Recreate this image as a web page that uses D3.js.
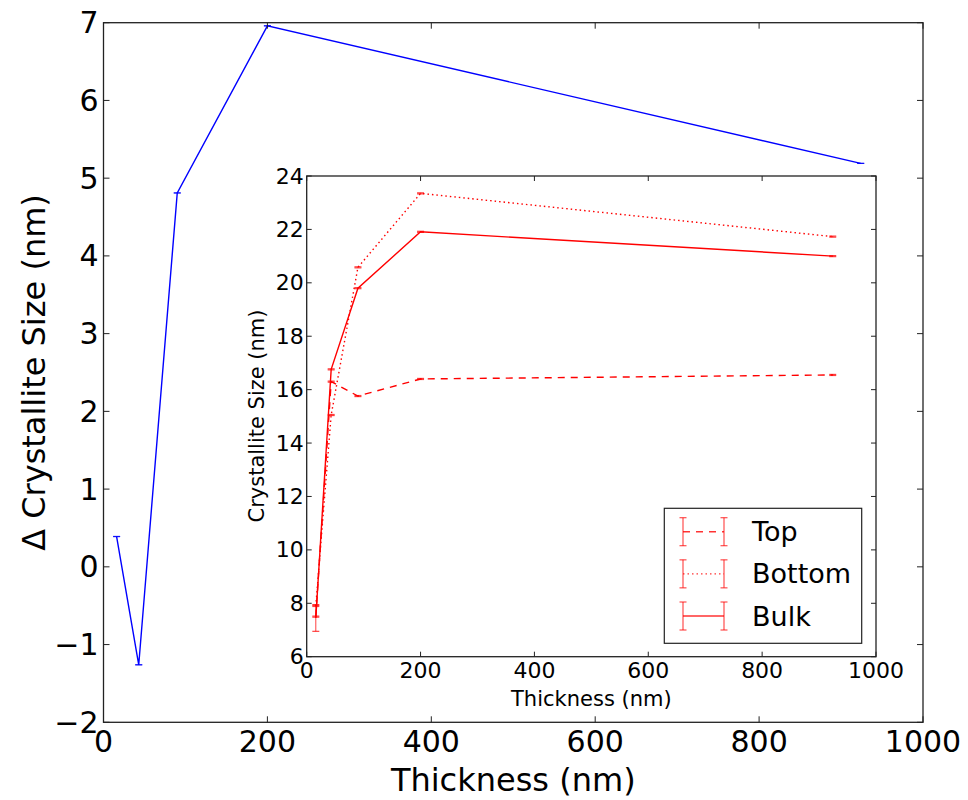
<!DOCTYPE html>
<html><head><meta charset="utf-8">
<script src="https://cdn.jsdelivr.net/npm/d3@7"></script>
<style>body{margin:0;background:#fff}svg{font-family:"DejaVu Sans",sans-serif}</style>
</head><body><svg id="c" width="968" height="800"></svg>
<script>
const thickness = [16, 43, 90, 200, 924];
const delta = [0.39, -1.26, 4.81, 6.96, 5.19];
const deltaErr = [0, 0, 0, 0, 0];
const topSize = [7.5, 16.3, 15.76, 16.4, 16.55];
const topErr = [0.02, 0.02, 0.02, 0.02, 0.02];
const bottomSize = [7.9, 15.05, 20.58, 23.35, 21.73];
const bottomErr = [0.02, 0.02, 0.02, 0.02, 0.02];
const bulkSize = [7.45, 16.76, 19.8, 21.91, 21.0];
const bulkErr = [0.5, 0.02, 0.02, 0.02, 0.02];
const mainXTicks = [0, 200, 400, 600, 800, 1000];
const mainYTicks = [-2, -1, 0, 1, 2, 3, 4, 5, 6, 7];
const insetXTicks = [0, 200, 400, 600, 800, 1000];
const insetYTicks = [6, 8, 10, 12, 14, 16, 18, 20, 22, 24];
const seriesNames = ["Top", "Bottom", "Bulk"];

const svg = d3.select("#c");
const fmt = d3.format("");

function frame(g, x, y, xt, yt, tick, fs, pad) {
  const [x0, x1] = x.range(), [y0, y1] = y.range();
  g.append("rect").attr("x", x0).attr("y", y1).attr("width", x1 - x0).attr("height", y0 - y1)
    .attr("fill", "none").attr("stroke", "#222").attr("stroke-width", 1.3);
  xt.forEach(v => {
    const px = x(v);
    g.append("line").attr("x1", px).attr("x2", px).attr("y1", y0).attr("y2", y0 - tick).attr("stroke", "#222");
    g.append("line").attr("x1", px).attr("x2", px).attr("y1", y1).attr("y2", y1 + tick).attr("stroke", "#222");
    g.append("text").attr("x", px).attr("y", y0 + pad).attr("text-anchor", "middle")
      .attr("dominant-baseline", "hanging").attr("font-size", fs).text(fmt(v));
  });
  yt.forEach(v => {
    const py = y(v);
    g.append("line").attr("x1", x0).attr("x2", x0 + tick).attr("y1", py).attr("y2", py).attr("stroke", "#222");
    g.append("line").attr("x1", x1).attr("x2", x1 - tick).attr("y1", py).attr("y2", py).attr("stroke", "#222");
    g.append("text").attr("x", x0 - pad + 2).attr("y", py).attr("text-anchor", "end")
      .attr("dominant-baseline", "central").attr("font-size", fs).text(fmt(v).replace("-", "\u2212"));
  });
}

function series(g, x, y, xs, ys, es, color, dash, cap) {
  const pts = xs.map((v, i) => [v, ys[i], es[i]]);
  g.append("path").datum(pts).attr("fill", "none").attr("stroke", color).attr("stroke-width", 1.4)
    .attr("stroke-dasharray", dash)
    .attr("d", d3.line().x(d => x(d[0])).y(d => y(d[1])));
  pts.forEach(d => {
    const px = x(d[0]);
    g.append("line").attr("x1", px).attr("x2", px).attr("y1", y(d[1] - d[2])).attr("y2", y(d[1] + d[2]))
      .attr("stroke", color).attr("stroke-opacity", 0.75);
    [d[1] - d[2], d[1] + d[2]].forEach(v => {
      g.append("line").attr("x1", px - cap).attr("x2", px + cap).attr("y1", y(v)).attr("y2", y(v))
        .attr("stroke", color).attr("stroke-opacity", 0.75).attr("stroke-width", 1.2);
    });
  });
}

// Main chart
const mx = d3.scaleLinear().domain([0, 1000]).range([103.5, 923]);
const my = d3.scaleLinear().domain([-2, 7]).range([722.3, 22.7]);
const gm = svg.append("g");
series(gm, mx, my, thickness, delta, deltaErr, "#0000ff", null, 3.5);
frame(gm, mx, my, mainXTicks, mainYTicks, 6, 30, 7);
gm.append("text").attr("x", (103.5 + 923) / 2).attr("y", 791).attr("text-anchor", "middle")
  .attr("font-size", 32).text("Thickness (nm)");
gm.append("text").attr("transform", `translate(45,372.5) rotate(-90)`).attr("text-anchor", "middle")
  .attr("font-size", 32).text("\u0394 Crystallite Size (nm)");

// Inset
const ix = d3.scaleLinear().domain([0, 1000]).range([306.7, 876]);
const iy = d3.scaleLinear().domain([6, 24]).range([656.7, 176]);
const gi = svg.append("g");
gi.append("rect").attr("x", 306.7).attr("y", 176).attr("width", 876 - 306.7).attr("height", 656.7 - 176).attr("fill", "#fff");
const styles = [["Top", topSize, topErr, "7,6"], ["Bottom", bottomSize, bottomErr, "1.5,3"], ["Bulk", bulkSize, bulkErr, null]];
styles.forEach(s => series(gi, ix, iy, thickness, s[1], s[2], "#ff0000", s[3], 3.5));
frame(gi, ix, iy, insetXTicks, insetYTicks, 5, 22, 5);
gi.append("text").attr("x", (306.7 + 876) / 2).attr("y", 706).attr("text-anchor", "middle")
  .attr("font-size", 21).text("Thickness (nm)");
gi.append("text").attr("transform", `translate(264,416) rotate(-90)`).attr("text-anchor", "middle")
  .attr("font-size", 21).text("Crystallite Size (nm)");

// Legend
const lg = gi.append("g");
lg.append("rect").attr("x", 664.3).attr("y", 508.3).attr("width", 861.7 - 664.3).attr("height", 643.3 - 508.3)
  .attr("fill", "#fff").attr("stroke", "#222").attr("stroke-width", 1.2);
const ly = d3.scalePoint().domain(seriesNames).range([531.7, 616]);
styles.forEach(s => {
  const yy = ly(s[0]);
  lg.append("line").attr("x1", 683).attr("x2", 724).attr("y1", yy).attr("y2", yy)
    .attr("stroke", "#ff0000").attr("stroke-opacity", 0.8).attr("stroke-width", 1.4).attr("stroke-dasharray", s[3]);
  [683, 724].forEach(px => lg.append("line").attr("x1", px).attr("x2", px).attr("y1", yy - 14).attr("y2", yy + 14)
    .attr("stroke", "#ff0000").attr("stroke-opacity", 0.7).attr("stroke-width", 1.2));
  [683, 724].forEach(px => [yy - 14, yy + 14].forEach(cy => lg.append("line").attr("x1", px - 3.5).attr("x2", px + 3.5)
    .attr("y1", cy).attr("y2", cy).attr("stroke", "#ff0000").attr("stroke-opacity", 0.7).attr("stroke-width", 1.2)));
  lg.append("text").attr("x", 752).attr("y", yy).attr("dominant-baseline", "central").attr("font-size", 27).text(s[0]);
});
</script></body></html>
